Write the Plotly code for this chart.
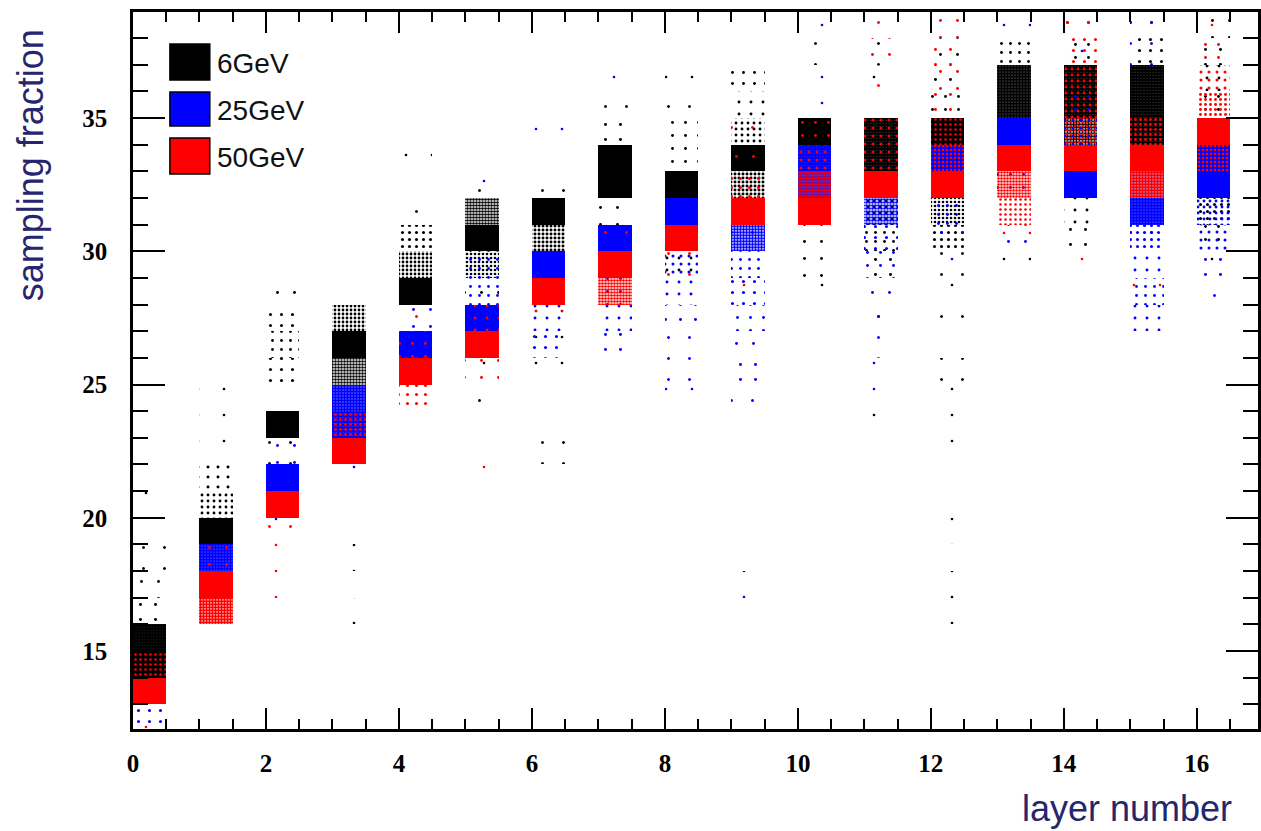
import math
import plotly.graph_objects as go

# Sampling fraction per calorimeter layer, binned as a 2D histogram:
# x bins are [layer, layer + 0.5), y bins are one unit wide.
# Each dict maps layer -> {lower edge of y bin: entries in that bin}.
FULL = 500  # bins crowded enough to be drawn as a solid block

counts_6GeV = {
    0: {20: 1, 18: 2, 17: 3, 16: 4, 15: 280, 14: FULL},
    1: {24: 1, 23: 1, 22: 1, 21: 9, 20: 25, 19: FULL},
    2: {28: 3, 27: 8, 26: 10, 25: 8, 23: FULL, 22: 2},
    3: {27: 60, 26: FULL, 25: 80, 18: 1, 16: 1},
    4: {33: 1, 31: 2, 30: 20, 29: 60, 28: FULL},
    5: {32: 2, 31: 130, 30: FULL, 29: 50, 28: 3, 25: 1, 24: 2},
    6: {32: 2, 31: FULL, 30: 70, 27: 1, 26: 1, 25: 1, 22: 2},
    7: {35: 2, 34: 4, 33: FULL, 32: FULL, 31: 3},
    8: {36: 1, 35: 2, 34: 5, 33: 5, 32: FULL, 29: 6},
    9: {36: 7, 35: 6, 34: 25, 33: FULL, 32: 70, 30: 2},
    10: {37: 2, 34: FULL, 33: 80, 30: 3, 29: 3, 28: 1},
    11: {37: 2, 36: 1, 34: 300, 33: 300, 31: 25, 30: 10, 29: 4, 27: 2, 23: 1},
    12: {37: 3, 36: 4, 35: 5, 34: FULL, 31: 50, 30: 20, 29: 2, 28: 1, 27: 2,
         25: 2, 24: 1, 23: 1, 22: 1, 19: 1, 17: 1, 16: 1},
    13: {37: 10, 36: 250, 35: 250, 29: 1},
    14: {38: 2, 37: 5, 36: 300, 35: 300, 34: 150, 31: 6, 30: 4},
    15: {38: 2, 37: 8, 36: 300, 35: 300, 34: 300, 30: 2},
    16: {38: 3, 37: 4, 36: 6, 35: 5, 33: 5, 32: 10, 31: 20, 30: 5, 29: 1},
}

counts_25GeV = {
    0: {12: 8},
    1: {18: 250},
    2: {22: 3, 21: FULL, 19: 1},
    3: {24: 220, 23: 300, 21: 1},
    4: {27: 3, 26: FULL},
    5: {32: 1, 29: 10, 28: 10, 27: FULL},
    6: {34: 1, 29: FULL, 27: 6, 26: 8},
    7: {36: 1, 30: FULL, 28: 5, 27: 6, 26: 4},
    8: {31: FULL, 29: 15, 28: 6, 27: 4, 26: 2, 25: 2, 24: 1},
    9: {30: 150, 29: 10, 28: 8, 27: 5, 26: 3, 25: 4, 24: 2, 17: 1},
    10: {38: 1, 36: 1, 35: 1, 33: 300, 32: 250},
    11: {31: 120, 30: 8, 29: 5, 28: 3, 27: 2, 26: 2, 25: 1, 24: 1},
    12: {33: FULL, 31: 10, 30: 2, 29: 1},
    13: {38: 1, 34: FULL, 32: 5, 30: 3},
    14: {37: 1, 35: 5, 34: 15, 32: FULL},
    15: {38: 2, 37: 2, 32: 80, 31: 250, 30: 20, 29: 6, 28: 10, 27: 6},
    16: {33: FULL, 32: FULL, 31: 25, 30: 15, 29: 4, 28: 2},
}

counts_50GeV = {
    0: {14: 30, 13: FULL, 12: 1},
    1: {18: 3, 17: FULL, 16: 200},
    2: {20: FULL, 19: 2, 18: 1, 17: 1},
    3: {23: 40, 22: FULL},
    4: {27: 2, 26: 5, 25: FULL, 24: 12},
    5: {27: 6, 26: FULL, 25: 3, 21: 1},
    6: {28: FULL, 27: 1},
    7: {30: 2, 29: FULL, 28: 120},
    8: {30: FULL, 29: 2},
    9: {34: 2, 33: 3, 32: 12, 31: FULL, 28: 1},
    10: {34: 5, 33: 15, 32: 120, 31: FULL},
    11: {38: 2, 37: 3, 36: 2, 34: 15, 33: 15, 32: FULL},
    12: {38: 3, 37: 4, 36: 3, 35: 4, 34: 30, 33: 50, 32: FULL},
    13: {33: FULL, 32: 90, 31: 30, 30: 1},
    14: {38: 2, 37: 8, 36: 25, 35: 25, 34: 50, 33: FULL, 29: 1},
    15: {34: 40, 33: FULL, 32: 200, 28: 1},
    16: {38: 1, 37: 5, 36: 15, 35: 40, 34: FULL, 33: 50},
}

series_names = ["6GeV", "25GeV", "50GeV"]
series_counts = [counts_6GeV, counts_25GeV, counts_50GeV]
series_colors = ["#000000", "#0000ff", "#ff0000"]

x_tick_values = list(range(0, 17, 2))
y_tick_values = [15, 20, 25, 30, 35]

X_BIN = 0.5
Y_BIN = 1.0

# page / plot geometry
W, H = 1261, 831
ML, MR, MT, MB = 133, 0, 12, 102
X_RANGE = [0, 16.92]
Y_RANGE = [12.08, 38.97]
plot_w = W - ML - MR
plot_h = H - MT - MB
px_per_x = plot_w / (X_RANGE[1] - X_RANGE[0])
px_per_y = plot_h / (Y_RANGE[1] - Y_RANGE[0])
bin_area_px = (X_BIN * px_per_x) * (Y_BIN * px_per_y)
DOT_R = 1.3        # radius of one scatter dot, px
DOT_AREA = 7.0     # footprint of one dot used for the coverage estimate, px^2


def dot_pattern(n):
    """Dot texture whose density follows the bin content."""
    spacing = float(round(min(26.0, max(3.0, math.sqrt(bin_area_px / n)))))
    coverage = 1.0 - math.exp(-n * DOT_AREA / bin_area_px)
    solidity = max(math.pi * DOT_R ** 2 / spacing ** 2, coverage)
    return spacing, min(solidity, 0.95)


fig = go.Figure()

for name, counts, color in zip(series_names, series_counts, series_colors):
    solid_x, solid_base = [], []
    dot_x, dot_base, dot_size, dot_sol = [], [], [], []
    for layer, bins in counts.items():
        for ylow, n in bins.items():
            if n <= 0:
                continue
            if n >= FULL:
                solid_x.append(layer)
                solid_base.append(ylow)
            else:
                s, sol = dot_pattern(n)
                dot_x.append(layer)
                dot_base.append(ylow)
                dot_size.append(s)
                dot_sol.append(round(sol, 3))

    fig.add_trace(go.Bar(
        x=solid_x, base=solid_base, y=[Y_BIN] * len(solid_x),
        width=X_BIN, offset=0, name=name, showlegend=False,
        marker=dict(color=color, line=dict(width=0)),
        hoverinfo="skip",
    ))
    fig.add_trace(go.Bar(
        x=dot_x, base=dot_base, y=[Y_BIN] * len(dot_x),
        width=X_BIN, offset=0, name=name, showlegend=False,
        marker=dict(
            color="rgba(0,0,0,0)", line=dict(width=0),
            pattern=dict(shape=".", size=dot_size, solidity=dot_sol,
                         fgcolor=color, fgopacity=1.0,
                         bgcolor="rgba(0,0,0,0)", fillmode="overlay"),
        ),
        hoverinfo="skip",
    ))


def paper_x(px):
    return (px - ML) / plot_w


def paper_y(py):
    return (H - MB - py) / plot_h


# legend: coloured boxes with labels
shapes = []
annotations = []
legend_rows = [(44, 80), (92, 126), (138, 174)]
for (top, bottom), name, color in zip(legend_rows, series_names, series_colors):
    shapes.append(dict(
        type="rect", xref="paper", yref="paper",
        x0=paper_x(170), x1=paper_x(210), y0=paper_y(bottom), y1=paper_y(top),
        fillcolor=color, line=dict(color="#000000", width=1.5), layer="above",
    ))
    annotations.append(dict(
        text=name, xref="paper", yref="paper",
        x=paper_x(215), y=paper_y((top + bottom) / 2 + 1),
        xanchor="left", yanchor="middle", showarrow=False,
        font=dict(family="Liberation Sans", size=28, color="#111111"),
    ))

title_color = "#26266e"
annotations.append(dict(
    text="layer number", xref="paper", yref="paper",
    x=paper_x(1237), y=paper_y(808), xanchor="right", yanchor="middle",
    showarrow=False, font=dict(family="Liberation Sans", size=36, color=title_color),
))
annotations.append(dict(
    text="sampling fraction", xref="paper", yref="paper",
    x=paper_x(31), y=paper_y(165), xanchor="center", yanchor="middle",
    textangle=-90, showarrow=False,
    font=dict(family="Liberation Sans", size=36, color=title_color),
))

tick_font = dict(family="Liberation Serif", size=25, color="#000000", weight="bold")

fig.update_layout(
    width=W, height=H,
    margin=dict(l=ML, r=MR, t=MT, b=MB, pad=0),
    paper_bgcolor="#ffffff", plot_bgcolor="#ffffff",
    barmode="overlay", bargap=0,
    shapes=shapes, annotations=annotations,
    xaxis=dict(
        range=X_RANGE, tickmode="array", tickvals=x_tick_values,
        ticktext=[str(v) for v in x_tick_values],
        ticks="inside", ticklen=21, tickwidth=2, tickcolor="#000000",
        showline=True, linewidth=2.5, linecolor="#000000", mirror="ticks",
        showgrid=False, zeroline=False, tickfont=tick_font,
        ticklabelstandoff=10,
        minor=dict(dtick=0.5, tick0=0, ticks="inside", ticklen=10,
                   tickwidth=2, tickcolor="#000000", showgrid=False),
    ),
    yaxis=dict(
        range=Y_RANGE, tickmode="array", tickvals=y_tick_values,
        ticktext=[str(v) for v in y_tick_values],
        ticks="inside", ticklen=32, tickwidth=2, tickcolor="#000000",
        showline=True, linewidth=2.5, linecolor="#000000", mirror="ticks",
        showgrid=False, zeroline=False, tickfont=tick_font,
        ticklabelstandoff=18,
        minor=dict(dtick=1, tick0=0, ticks="inside", ticklen=15,
                   tickwidth=2, tickcolor="#000000", showgrid=False),
    ),
)

fig.write_html("out.html", config={"displayModeBar": False})
